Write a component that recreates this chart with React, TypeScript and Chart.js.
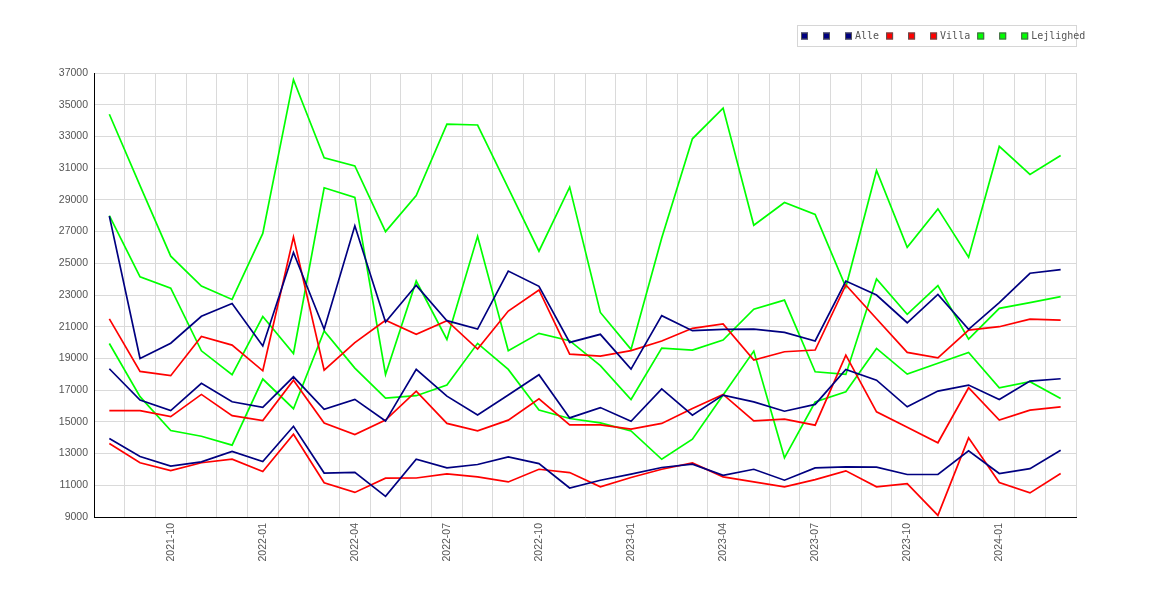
import { useEffect, useRef } from 'react'
import { Chart, registerables } from 'chart.js'

Chart.register(...registerables)

const months = [
  '2021-08', '2021-09', '2021-10', '2021-11', '2021-12',
  '2022-01', '2022-02', '2022-03', '2022-04', '2022-05', '2022-06',
  '2022-07', '2022-08', '2022-09', '2022-10', '2022-11', '2022-12',
  '2023-01', '2023-02', '2023-03', '2023-04', '2023-05', '2023-06',
  '2023-07', '2023-08', '2023-09', '2023-10', '2023-11', '2023-12',
  '2024-01', '2024-02', '2024-03'
]

const Y_MIN = 9000
const Y_MAX = 37000
const Y_STEP = 2000

// Alle
const alleHigh = [
  27970, 19000, 19960, 21660, 22460, 19790, 25680, 20840, 27360, 21290, 23610,
  21380, 20850, 24510, 23550, 20010, 20520, 18330, 21700, 20750, 20830, 20850,
  20640, 20100, 23880, 23000, 21250, 23040, 20830, 22520, 24370, 24600
]
const alleLow = [
  13950, 12810, 12210, 12480, 13130, 12500, 14720, 11770, 11810, 10300, 12640,
  12100, 12310, 12790, 12370, 10830, 11320, 11700, 12120, 12330, 11630, 12010,
  11320, 12100, 12160, 12140, 11680, 11680, 13170, 11740, 12050, 13210
]
const alleMid = [
  18350, 16380, 15710, 17430, 16270, 15920, 17840, 15790, 16420, 15050, 18310,
  16620, 15440, 16690, 17970, 15250, 15900, 15040, 17080, 15420, 16690, 16260,
  15670, 16100, 18310, 17630, 15950, 16940, 17320, 16410, 17570, 17720
]

// Villa
const villaHigh = [
  21490, 18180, 17910, 20380, 19840, 18220, 26650, 18260, 20000, 21410, 20520,
  21380, 19590, 21990, 23320, 19270, 19150, 19490, 20100, 20900, 21170, 18900,
  19420, 19530, 23630, 21500, 19380, 19040, 20790, 21000, 21480, 21420
]
const villaLow = [
  13630, 12420, 11930, 12420, 12650, 11870, 14220, 11160, 10550, 11450, 11460,
  11720, 11530, 11210, 12010, 11800, 10900, 11490, 12010, 12410, 11530, 11210,
  10900, 11360, 11910, 10900, 11110, 9100, 13990, 11170, 10520, 11740
]
const villaMid = [
  15710, 15710, 15330, 16730, 15390, 15080, 17630, 14930, 14200, 15110, 16940,
  14900, 14430, 15110, 16450, 14810, 14810, 14540, 14900, 15840, 16730, 15060,
  15170, 14790, 19210, 15630, 14660, 13680, 17150, 15110, 15740, 15950
]

// Lejlighed
const lejlHigh = [
  34400, 29900, 25450, 23560, 22720, 26880, 36580, 31650, 31140, 27000, 29270,
  33780, 33720, 29740, 25760, 29800, 21900, 19570, 26600, 32850, 34790, 27400,
  28830, 28080, 23500, 30850, 26010, 28430, 25380, 32370, 30600, 31800
]
const lejlLow = [
  19940, 16590, 14450, 14090, 13530, 17700, 15830, 20740, 18390, 16500, 16650,
  17320, 19950, 18310, 15740, 15210, 14940, 14430, 12640, 13910, 16690, 19460,
  12730, 16250, 16900, 19630, 18010, 18700, 19380, 17150, 17530, 16480
]
const lejlMid = [
  28000, 24150, 23430, 19480, 17970, 21640, 19310, 29760, 29150, 17990, 23880,
  20200, 26700, 19490, 20580, 20120, 18550, 16410, 19650, 19530, 20160, 22100,
  22680, 18160, 17990, 24010, 21780, 23590, 20220, 22160, 22520, 22900
]

const NAVY = '#000080'
const RED = '#ff0000'
const GREEN = '#00ff00'

// legend drawn in a small box above the plot, right aligned to the chart area
const legendBox = {
  id: 'legendBox',
  afterDraw(chart: any) {
    const { ctx, chartArea } = chart
    const width = 279
    const left = chartArea.right - width
    const top = 17
    const h = 21
    const cy = 28
    ctx.save()
    ctx.strokeStyle = '#d6d6d6'
    ctx.lineWidth = 1
    ctx.strokeRect(Math.round(left) + 0.5, top + 0.5, width, h)
    ctx.font = '10px "DejaVu Sans Mono"'
    ctx.textBaseline = 'middle'
    ctx.textAlign = 'left'
    let x = Math.round(left) + 4
    chart.data.datasets.forEach((ds: any) => {
      ctx.fillStyle = ds.borderColor
      ctx.fillRect(x, cy - 3.5, 7, 7)
      ctx.strokeStyle = '#555'
      ctx.strokeRect(x + 0.5, cy - 3, 6, 6)
      if (ds.label) {
        ctx.fillStyle = '#555'
        ctx.fillText(ds.label, x + 10, cy)
        x += 10 + ctx.measureText(ds.label).width + 7
      } else {
        x += 22
      }
    })
    ctx.restore()
  }
}

export default function App() {
  const chartRef = useRef<HTMLCanvasElement>(null)
  const chartInstance = useRef<Chart | null>(null)

  useEffect(() => {
    if (!chartRef.current) return
    if (chartInstance.current) chartInstance.current.destroy()

    const line = (label: string, data: number[], color: string) => ({
      label,
      data,
      borderColor: color,
      backgroundColor: color,
      borderWidth: 1.7,
      pointRadius: 0,
      tension: 0,
      fill: false
    })

    const tickFont = { family: '"Liberation Sans", Arial, sans-serif', size: 10.5 }

    chartInstance.current = new Chart(chartRef.current, {
      type: 'line',
      data: {
        labels: months,
        datasets: [
          line('', alleHigh, NAVY),
          line('', alleLow, NAVY),
          line('Alle', alleMid, NAVY),
          line('', villaHigh, RED),
          line('', villaLow, RED),
          line('Villa', villaMid, RED),
          line('', lejlHigh, GREEN),
          line('', lejlLow, GREEN),
          line('Lejlighed', lejlMid, GREEN)
        ]
      },
      options: {
        animation: false,
        responsive: true,
        maintainAspectRatio: false,
        layout: { padding: { top: 65, right: 86, left: 0, bottom: 0 } },
        plugins: {
          legend: { display: false },
          tooltip: { enabled: false }
        },
        scales: {
          x: {
            type: 'category',
            offset: true,
            grid: { offset: true, color: '#dadada', drawTicks: false },
            border: { color: '#000', width: 1 },
            ticks: {
              autoSkip: false,
              minRotation: 90,
              maxRotation: 90,
              padding: 6,
              color: '#555',
              font: tickFont,
              callback: (_v: any, i: number) => {
                const m = months[i].slice(5)
                return ['01', '04', '07', '10'].includes(m) ? months[i] : ''
              }
            },
            afterFit: (scale: any) => {
              scale.height = 75
            }
          },
          y: {
            min: Y_MIN,
            max: Y_MAX,
            grid: { color: '#dadada', drawTicks: false },
            border: { color: '#000', width: 1 },
            ticks: {
              stepSize: Y_STEP,
              padding: 6,
              color: '#555',
              font: tickFont,
              callback: (v: any) => String(v)
            },
            afterFit: (scale: any) => {
              scale.width = 86
            }
          }
        }
      },
      plugins: [legendBox]
    })

    return () => {
      if (chartInstance.current) {
        chartInstance.current.destroy()
        chartInstance.current = null
      }
    }
  }, [])

  return (
    <div style={{ width: 1154, height: 584, position: 'relative' }}>
      <canvas ref={chartRef} />
    </div>
  )
}
